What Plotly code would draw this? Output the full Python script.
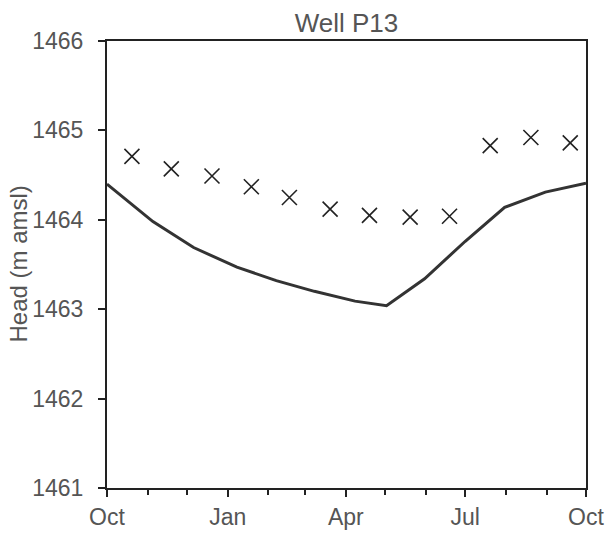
import plotly.graph_objects as go

# Simulated head (line)
sim_dates = ["2004-10-01", "2004-11-05", "2004-12-06", "2005-01-08", "2005-02-07",
             "2005-03-08", "2005-04-08", "2005-05-02", "2005-05-31", "2005-07-01",
             "2005-07-31", "2005-08-31", "2005-10-01"]
sim_head = [1464.40, 1463.98, 1463.69, 1463.47, 1463.32, 1463.20, 1463.09,
            1463.04, 1463.34, 1463.76, 1464.14, 1464.31, 1464.41]

# Observed head (markers)
obs_dates = ["2004-10-20", "2004-11-19", "2004-12-20", "2005-01-19", "2005-02-17",
             "2005-03-20", "2005-04-19", "2005-05-20", "2005-06-19", "2005-07-20",
             "2005-08-20", "2005-09-19"]
obs_head = [1464.71, 1464.57, 1464.49, 1464.37, 1464.25, 1464.12, 1464.05,
            1464.03, 1464.04, 1464.83, 1464.92, 1464.86]

x_tick_vals = ["2004-10-01", "2005-01-01", "2005-04-01", "2005-07-01", "2005-10-01"]
x_tick_text = ["Oct", "Jan", "Apr", "Jul", "Oct"]
y_tick_vals = [1461, 1462, 1463, 1464, 1465, 1466]

fig = go.Figure()
fig.add_trace(go.Scatter(x=sim_dates, y=sim_head, mode="lines",
                         line=dict(color="#333333", width=3), showlegend=False))
fig.add_trace(go.Scatter(x=obs_dates, y=obs_head, mode="markers",
                         marker=dict(symbol="x-thin", size=15,
                                     line=dict(color="#222222", width=1.6)),
                         showlegend=False))

font_family = "Liberation Sans, Arial, sans-serif"
W, H = 608, 533
L, R, T, B = 107, 22, 41, 45
plot_w = W - L - R
fig.update_layout(
    width=W, height=H,
    margin=dict(l=L, r=R, t=T, b=B),
    paper_bgcolor="white", plot_bgcolor="white",
    font=dict(family=font_family, color="#555555", size=23),
    title=dict(text="Well P13", x=0.5, xref="paper", xanchor="center",
               y=1, yref="paper", yanchor="bottom", pad=dict(b=9),
               font=dict(size=26, color="#555555")),
    xaxis=dict(type="date", range=["2004-10-01", "2005-10-01"], automargin=False,
               tickvals=x_tick_vals, ticktext=x_tick_text,
               ticks="outside", ticklen=7, tickwidth=2, tickcolor="#222222",
               showline=True, linecolor="#222222", linewidth=2, mirror=True,
               showgrid=False, zeroline=False,
               minor=dict(dtick="M1", tick0="2004-10-01", ticks="outside",
                          ticklen=5, tickwidth=2, tickcolor="#222222",
                          showgrid=False),
               tickfont=dict(size=23, color="#555555")),
    yaxis=dict(range=[1461, 1466], tickvals=y_tick_vals, automargin=False,
               ticks="outside", ticklen=7, tickwidth=2, tickcolor="#222222",
               showline=True, linecolor="#222222", linewidth=2, mirror=True,
               showgrid=False, zeroline=False,
               tickfont=dict(size=23, color="#555555"),
               ticklabelstandoff=10),
    annotations=[dict(text="Head (m amsl)", textangle=-90,
                      x=(18 - L) / plot_w, xref="paper", xanchor="center",
                      y=0.5, yref="paper", yanchor="middle", showarrow=False,
                      font=dict(size=24, color="#555555"))],
)

fig.write_html("out.html", config={"displayModeBar": False},
               post_script="document.body.style.margin='0';document.body.style.overflow='hidden';")
